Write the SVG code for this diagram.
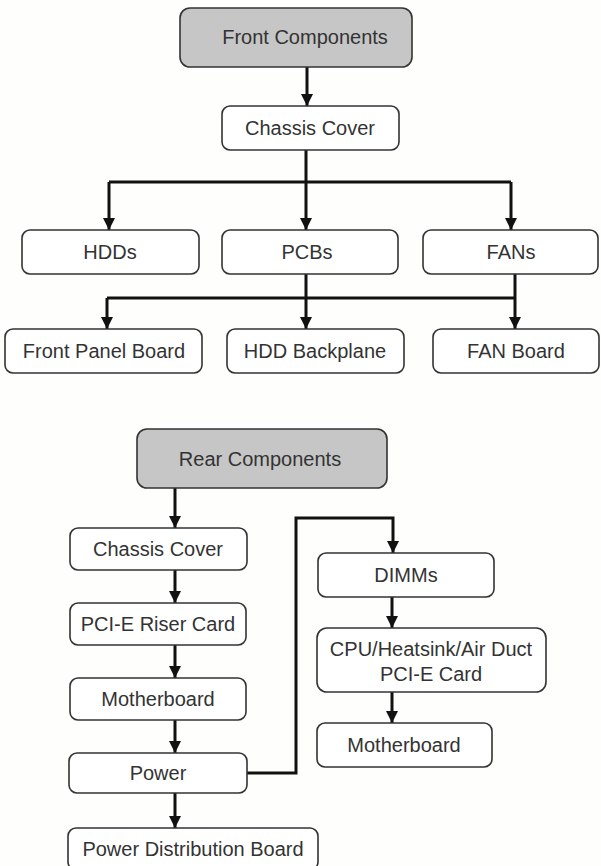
<svg xmlns="http://www.w3.org/2000/svg" width="601" height="866" viewBox="0 0 601 866">
<defs>
<marker id="ah" viewBox="0 0 12 12" refX="12" refY="6" markerWidth="12" markerHeight="13" markerUnits="userSpaceOnUse" orient="auto">
<path d="M0,0 L12,6 L0,12 z" fill="#111"/>
</marker>
<style>
.box{fill:#fff;stroke:#333;stroke-width:1.6}
.hdr{fill:#c6c6c6;stroke:#333;stroke-width:1.6}
.t{font-family:"Liberation Sans",Arial,sans-serif;font-size:20px;fill:#333;text-anchor:middle}
.c{fill:none;stroke:#111;stroke-width:3}
.a{marker-end:url(#ah)}
</style>
</defs>
<rect width="601" height="866" fill="#fefefc"/>
<g id="connectors">
<path class="c a" d="M307,67 V106"/>
<path class="c a" d="M306,150 V230"/>
<path class="c" d="M109,182 H511"/>
<path class="c a" d="M109,182 V230"/>
<path class="c a" d="M511,182 V230"/>
<path class="c a" d="M306,274 V329"/>
<path class="c" d="M107,298 H515"/>
<path class="c a" d="M107,298 V329"/>
<path class="c a" d="M515,274 V329"/>
<path class="c a" d="M175,488 V528"/>
<path class="c a" d="M175,570 V603"/>
<path class="c a" d="M175,645 V678"/>
<path class="c a" d="M175,720 V753"/>
<path class="c a" d="M175,793 V828"/>
<path class="c a" d="M247,773 H296 V518 H393 V553"/>
<path class="c a" d="M392,597 V628"/>
<path class="c a" d="M392,692 V723"/>
</g>
<g id="front-components"><rect class="hdr" x="180" y="8" width="232" height="59" rx="10"/><text class="t" x="305" y="44">Front Components</text></g>
<g id="front-chassis-cover"><rect class="box" x="222" y="106" width="177" height="44" rx="8"/><text class="t" x="310" y="135">Chassis Cover</text></g>
<g id="hdds"><rect class="box" x="22" y="230" width="177" height="44" rx="8"/><text class="t" x="110" y="259">HDDs</text></g>
<g id="pcbs"><rect class="box" x="222" y="230" width="176" height="44" rx="8"/><text class="t" x="307" y="259">PCBs</text></g>
<g id="fans"><rect class="box" x="423" y="230" width="175" height="44" rx="8"/><text class="t" x="511" y="259">FANs</text></g>
<g id="front-panel-board"><rect class="box" x="5" y="329" width="197" height="44" rx="8"/><text class="t" x="104" y="358">Front Panel Board</text></g>
<g id="hdd-backplane"><rect class="box" x="227" y="329" width="177" height="44" rx="8"/><text class="t" x="315" y="358">HDD Backplane</text></g>
<g id="fan-board"><rect class="box" x="433" y="329" width="166" height="44" rx="8"/><text class="t" x="516" y="358">FAN Board</text></g>
<g id="rear-components"><rect class="hdr" x="137" y="429" width="250" height="59" rx="10"/><text class="t" x="260" y="466">Rear Components</text></g>
<g id="rear-chassis-cover"><rect class="box" x="70" y="528" width="177" height="42" rx="8"/><text class="t" x="158" y="556">Chassis Cover</text></g>
<g id="pcie-riser-card"><rect class="box" x="70" y="603" width="176" height="42" rx="8"/><text class="t" x="158" y="631">PCI-E Riser Card</text></g>
<g id="motherboard-left"><rect class="box" x="70" y="678" width="176" height="42" rx="8"/><text class="t" x="158" y="706">Motherboard</text></g>
<g id="power"><rect class="box" x="69" y="753" width="178" height="40" rx="8"/><text class="t" x="158" y="780">Power</text></g>
<g id="power-distribution-board"><rect class="box" x="68" y="828" width="250" height="42" rx="8"/><text class="t" x="193" y="856">Power Distribution Board</text></g>
<g id="dimms"><rect class="box" x="318" y="553" width="176" height="44" rx="8"/><text class="t" x="406" y="582">DIMMs</text></g>
<g id="cpu-heatsink"><rect class="box" x="317" y="628" width="229" height="64" rx="10"/><text class="t" x="431" y="656">CPU/Heatsink/Air Duct</text><text class="t" x="431" y="681">PCI-E Card</text></g>
<g id="motherboard-right"><rect class="box" x="317" y="723" width="175" height="44" rx="8"/><text class="t" x="404" y="752">Motherboard</text></g>
</svg>
